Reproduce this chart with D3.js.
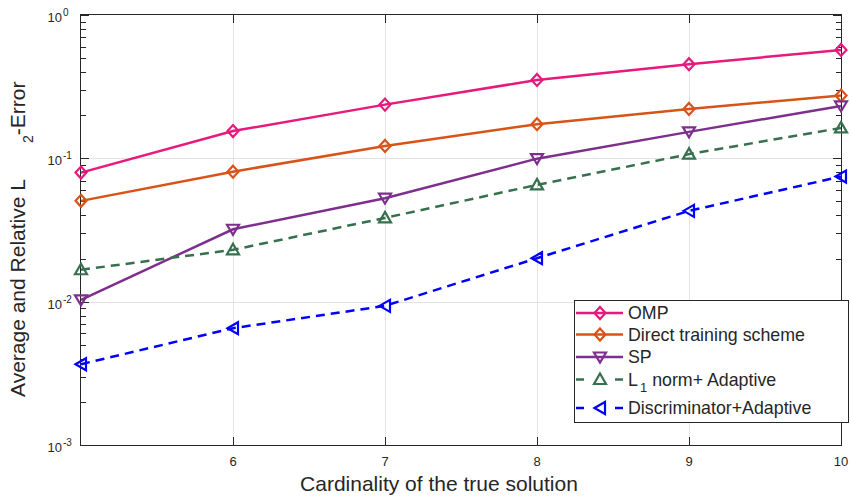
<!DOCTYPE html>
<html><head><meta charset="utf-8">
<script src="https://cdn.jsdelivr.net/npm/d3@7"></script>
<style>
body{margin:0;background:#fff}
text{font-family:"Liberation Sans",Arial,Helvetica,sans-serif;fill:#262626}
</style>
</head><body>
<svg id="c" width="851" height="496"></svg>
<script>
// ---------- data ----------
const cardinality = [5, 6, 7, 8, 9, 10];
const omp          = [0.0795, 0.155, 0.237, 0.352, 0.454, 0.570];
const direct       = [0.0505, 0.0807, 0.122, 0.173, 0.221, 0.274];
const sp           = [0.0103, 0.0320, 0.0527, 0.0995, 0.153, 0.232];
const l1Adaptive   = [0.0167, 0.0230, 0.0384, 0.0653, 0.107, 0.163];
const discAdaptive = [0.00366, 0.00653, 0.00935, 0.0201, 0.0430, 0.0746];
const xTicks = [6, 7, 8, 9, 10];
const yTicks = [1e-3, 1e-2, 1e-1, 1];
const yTickExp = ["-3", "-2", "-1", "0"];
const seriesNames = ["OMP", "Direct training scheme", "SP", "L1 norm+ Adaptive", "Discriminator+Adaptive"];

const seriesStyle = [
  {vals: omp,          color: "#E8197D", marker: "diamond", dash: null},
  {vals: direct,       color: "#D95319", marker: "diamond", dash: null},
  {vals: sp,           color: "#7E2F8E", marker: "tridown", dash: null},
  {vals: l1Adaptive,   color: "#37704F", marker: "triup",   dash: "9,6"},
  {vals: discAdaptive, color: "#0000FF", marker: "trileft", dash: "9,6"}
];

// ---------- layout ----------
const L = 81, R = 841, T = 15, B = 445;
const svg = d3.select("#c");
const x = d3.scaleLinear().domain([5, 10]).range([L, R]);
const y = d3.scaleLog().domain([1e-3, 1]).range([B, T]);

// grid
const g = svg.append("g");
g.selectAll(".vg").data(xTicks.filter(t => t < 10)).enter().append("line")
  .attr("x1", d => Math.round(x(d)) + 0.5).attr("x2", d => Math.round(x(d)) + 0.5)
  .attr("y1", T).attr("y2", B).attr("stroke", "#e3e3e3").attr("stroke-width", 1);
g.selectAll(".hg").data(yTicks.slice(1, 3)).enter().append("line")
  .attr("y1", d => Math.round(y(d)) + 0.5).attr("y2", d => Math.round(y(d)) + 0.5)
  .attr("x1", L).attr("x2", R).attr("stroke", "#e3e3e3").attr("stroke-width", 1);

// frame
const ax = svg.append("g").attr("stroke", "#262626").attr("stroke-width", 1).attr("fill", "none");
ax.append("rect").attr("x", L - 0.5).attr("y", T - 0.5).attr("width", R - L + 1).attr("height", B - T + 1);

// x ticks (bottom & top, inward)
xTicks.forEach(t => {
  const px = Math.round(x(t)) + 0.5;
  ax.append("line").attr("x1", px).attr("x2", px).attr("y1", B).attr("y2", B - 8);
  ax.append("line").attr("x1", px).attr("x2", px).attr("y1", T).attr("y2", T + 8);
});
// y ticks major + minor
const minor = [];
for (let e = -3; e < 0; e++) for (let m = 2; m <= 9; m++) minor.push(m * Math.pow(10, e));
yTicks.forEach(t => {
  const py = Math.round(y(t)) + 0.5;
  ax.append("line").attr("x1", L).attr("x2", L + 8).attr("y1", py).attr("y2", py);
  ax.append("line").attr("x1", R).attr("x2", R - 8).attr("y1", py).attr("y2", py);
});
minor.forEach(t => {
  const py = Math.round(y(t)) + 0.5;
  ax.append("line").attr("x1", L).attr("x2", L + 5).attr("y1", py).attr("y2", py);
  ax.append("line").attr("x1", R).attr("x2", R - 5).attr("y1", py).attr("y2", py);
});

// tick labels
svg.selectAll(".xl").data(xTicks).enter().append("text")
  .attr("x", d => x(d)).attr("y", 466).attr("text-anchor", "middle")
  .attr("font-size", 13).text(d => d);
yTicks.forEach((t, i) => {
  svg.append("text").attr("x", 62).attr("y", y(t) + 7).attr("text-anchor", "end")
    .attr("font-size", 13).text("10");
  svg.append("text").attr("x", 63).attr("y", y(t) + 1).attr("font-size", 10).text(yTickExp[i]);
});

// axis labels
svg.append("text").attr("x", 439).attr("y", 491).attr("text-anchor", "middle")
  .attr("font-size", 21).text("Cardinality of the true solution");
const yl = svg.append("text").attr("transform", "translate(25,397) rotate(-90)").attr("font-size", 21);
yl.append("tspan").text("Average and Relative L");
yl.append("tspan").attr("dx", 36).attr("dy", 8).attr("font-size", 14).text("2");
yl.append("tspan").attr("dy", -8).text("-Error");

// markers
function markerPath(type) {
  switch (type) {
    case "diamond": return "M0,-6L5.5,0L0,6L-5.5,0Z";
    case "tridown": return "M-6,-4.5L6,-4.5L0,5.5Z";
    case "triup":   return "M0,-6L6,4.5L-6,4.5Z";
    case "trileft": return "M-5.5,0L5,-6L5,6Z";
  }
}

// lines
const line = d3.line().x((d, i) => x(cardinality[i])).y(d => y(d));
seriesStyle.forEach(s => {
  svg.append("path").datum(s.vals).attr("d", line).attr("fill", "none")
    .attr("stroke", s.color).attr("stroke-width", 2.5)
    .attr("stroke-dasharray", s.dash);
  svg.selectAll(null).data(s.vals).enter().append("path")
    .attr("transform", (d, i) => `translate(${x(cardinality[i])},${y(d)})`)
    .attr("d", markerPath(s.marker)).attr("fill", "none")
    .attr("stroke", s.color).attr("stroke-width", 2.2);
});

// legend
const lg = svg.append("g");
lg.append("rect").attr("x", 574.5).attr("y", 300.5).attr("width", 274).attr("height", 122)
  .attr("fill", "#fff").attr("stroke", "#262626").attr("stroke-width", 1);
const legY = [313, 334.5, 357, 379.5, 408];
seriesStyle.forEach((s, i) => {
  const yy = legY[i];
  if (s.dash) {
    lg.append("line").attr("x1", 576).attr("x2", 584).attr("y1", yy).attr("y2", yy)
      .attr("stroke", s.color).attr("stroke-width", 2.5);
    lg.append("line").attr("x1", 615).attr("x2", 623).attr("y1", yy).attr("y2", yy)
      .attr("stroke", s.color).attr("stroke-width", 2.5);
  } else {
    lg.append("line").attr("x1", 576).attr("x2", 623).attr("y1", yy).attr("y2", yy)
      .attr("stroke", s.color).attr("stroke-width", 2.5);
  }
  lg.append("path").attr("transform", `translate(600,${yy})`).attr("d", markerPath(s.marker))
    .attr("fill", "none").attr("stroke", s.color).attr("stroke-width", 2.2);
  const t = lg.append("text").attr("x", 628).attr("y", yy + 6).attr("font-size", 17.8);
  if (i === 3) {
    t.append("tspan").text("L");
    t.append("tspan").attr("dx", 2).attr("dy", 6).attr("font-size", 13).text("1");
    t.append("tspan").attr("dy", -6).attr("dx", 5).text("norm+ Adaptive");
  } else {
    t.text(seriesNames[i]);
  }
});
</script>
</body></html>
